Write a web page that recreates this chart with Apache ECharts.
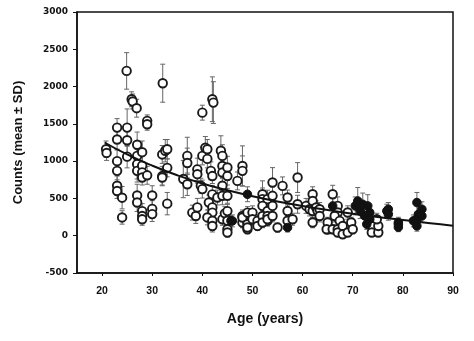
<!DOCTYPE html>
<html>
<head>
<meta charset="utf-8">
<script src="https://cdn.jsdelivr.net/npm/echarts@6/dist/echarts.min.js"></script>
<style>
  html, body { margin: 0; padding: 0; background: #fff; }
  #chart { width: 474px; height: 341px; }
</style>
</head>
<body>
<div id="chart"></div>
<script>
// Counts by age: each row is [age (years), mean count, SD]
const openSubjects = [
  [20.8, 1160, 110], [20.9, 1110, 100],
  [23, 1450, 120], [23, 1290, 130], [23, 1000, 150], [23, 870, 120], [23, 670, 130], [23, 600, 100],
  [24, 510, 150], [24, 245, 90],
  [24.9, 2210, 245], [25, 1450, 250], [25, 1280, 200], [25, 1060, 150],
  [25.9, 1830, 100], [26.1, 1800, 100], [26.9, 1710, 120], [27, 1220, 170], [27, 1070, 120],
  [27, 960, 200], [27, 870, 150], [27, 540, 150], [27, 445, 120],
  [28, 1120, 150], [28, 940, 130], [28, 850, 120], [28, 780, 100], [28, 330, 100], [28, 265, 90], [28, 220, 80],
  [29, 1540, 80], [29, 1495, 80], [29, 810, 120],
  [30, 540, 130], [30, 360, 110], [30, 290, 100],
  [32.1, 2045, 255], [32, 1090, 120], [32.6, 1140, 150], [33, 1160, 130], [33, 910, 120],
  [32, 800, 130], [32, 780, 100], [33, 430, 150],
  [37, 1070, 250], [37, 975, 200], [36.2, 760, 250], [37, 690, 150],
  [38, 310, 100], [38.7, 265, 100], [39, 380, 120], [39, 890, 150], [39, 825, 120], [39.7, 670, 100],
  [40, 625, 120], [40, 1650, 100], [40, 1070, 120], [40.6, 1180, 150], [41, 1160, 130], [41, 1030, 120],
  [41.7, 870, 120], [42, 800, 100],
  [41.3, 445, 100], [42, 380, 100], [42, 310, 90], [41, 245, 100], [42, 200, 80], [42, 130, 80],
  [42, 555, 120], [42, 1830, 300], [42.2, 1785, 280],
  [43, 512, 100], [44, 535, 120], [43.7, 1140, 200], [44, 1070, 150], [44, 935, 150], [44, 847, 120],
  [44, 670, 100], [44, 220, 80], [44.5, 300, 90], [45, 915, 150], [45, 800, 120], [45, 535, 100],
  [45, 330, 90], [45, 200, 80], [45, 87, 70], [45, 43, 60],
  [47, 735, 120], [48, 935, 270], [48, 870, 200], [48, 265, 80], [48, 177, 70], [49, 265, 80],
  [49, 177, 70], [48, 244, 70], [49, 154, 60], [49, 87, 60], [49, 310, 80], [49, 110, 60],
  [50, 310, 90], [50, 220, 70], [51, 199, 80], [51, 131, 60],
  [52, 556, 180], [52, 490, 150], [53, 490, 120], [52, 400, 100], [53, 332, 90], [52, 265, 80],
  [53, 265, 80], [53, 199, 70], [52, 177, 70], [53, 221, 70],
  [54, 713, 200], [54, 535, 120], [54, 400, 100], [54, 265, 80], [55, 110, 60], [56, 668, 120],
  [57, 512, 100], [57, 332, 90], [57, 200, 70],
  [58, 221, 80], [59, 780, 200], [59, 422, 120],
  [60.7, 400, 100], [61.4, 355, 90], [62, 556, 100], [62, 466, 100], [62, 332, 90], [62, 177, 70],
  [62.7, 378, 90], [63, 332, 80], [63.4, 355, 90], [63.4, 265, 80],
  [65, 87, 60], [65, 177, 70], [66, 556, 120], [67, 400, 120], [67, 311, 90], [66.4, 265, 80],
  [67.4, 199, 70], [64.8, 87, 60], [66, 87, 60], [67, 87, 60], [67, 43, 50], [68, 131, 60],
  [68, 20, 50], [69, 43, 50], [69, 311, 90], [69.7, 177, 70], [70, 87, 60],
  [73.8, 131, 60], [73.8, 43, 50], [75.1, 43, 50], [75.1, 131, 60], [74.8, 221, 80]
];

const filledSubjects = [
  [45.7, 200, 70], [46, 199, 80], [49, 556, 100], [57, 110, 60], [66, 400, 100],
  [70.5, 400, 120], [71, 466, 180], [71.5, 330, 100], [72, 422, 150], [73, 400, 150],
  [73.4, 311, 100], [72.4, 265, 100], [73.4, 221, 80], [72.8, 154, 70],
  [76.8, 332, 90], [77.1, 355, 90], [77.1, 288, 80],
  [79.1, 177, 70], [79.1, 154, 60], [79.1, 114, 60],
  [82.8, 445, 135], [83.8, 355, 100], [83.1, 288, 100], [82.8, 221, 80], [82.1, 199, 80],
  [83.8, 265, 90], [82.8, 131, 70]
];

// Fitted decline of counts with age
const trendAge = [20.5, 25, 30, 35, 40, 45, 50, 55, 60, 65, 70, 75, 80, 85, 90];
const trendCount = [1250, 1090, 940, 810, 700, 610, 530, 460, 400, 345, 295, 250, 210, 170, 135];

const xTicks = [20, 30, 40, 50, 60, 70, 80, 90];

const allSubjects = openSubjects.concat(filledSubjects);
const FONT = '"Liberation Sans", Arial, sans-serif';

function errorBar(params, api) {
  const x = api.value(0);
  const m = api.value(1);
  const sd = api.value(2);
  const top = api.coord([x, m + sd]);
  const bot = api.coord([x, m - sd]);
  const cap = 2.5;
  const style = { stroke: '#666', lineWidth: 1 };
  return {
    type: 'group',
    children: [
      { type: 'line', shape: { x1: top[0], y1: top[1], x2: bot[0], y2: bot[1] }, style: style },
      { type: 'line', shape: { x1: top[0] - cap, y1: top[1], x2: top[0] + cap, y2: top[1] }, style: style },
      { type: 'line', shape: { x1: bot[0] - cap, y1: bot[1], x2: bot[0] + cap, y2: bot[1] }, style: style }
    ]
  };
}

const chart = echarts.init(document.getElementById('chart'), null, { renderer: 'canvas' });
chart.setOption({
  animation: false,
  backgroundColor: '#fff',
  grid: {
    left: 77, right: 21, top: 12, bottom: 68,
    show: true, borderColor: '#111', borderWidth: 1.5, backgroundColor: 'transparent'
  },
  xAxis: {
    type: 'value', min: 15, max: 90,
    name: 'Age (years)', nameLocation: 'middle', nameGap: 39,
    nameTextStyle: { fontFamily: FONT, fontWeight: 'bold', fontSize: 14, color: '#111' },
    axisLine: { show: true, onZero: false, lineStyle: { color: '#111', width: 1.5 } },
    axisTick: { show: true, length: 3, customValues: xTicks, lineStyle: { color: '#111' } },
    axisLabel: { customValues: xTicks, margin: 13, fontFamily: FONT, fontWeight: 'bold', fontSize: 10.5, color: '#111' },
    splitLine: { show: false }
  },
  yAxis: {
    type: 'value', min: -500, max: 3000, interval: 500,
    name: 'Counts (mean ± SD)', nameLocation: 'middle', nameGap: 52, nameRotate: 90,
    nameTextStyle: { fontFamily: FONT, fontWeight: 'bold', fontSize: 13, color: '#111' },
    axisLine: { show: true, onZero: false, lineStyle: { color: '#111', width: 1.5 } },
    axisTick: { show: true, length: 4, lineStyle: { color: '#111' } },
    axisLabel: {
      margin: 9, fontFamily: '"DejaVu Sans", sans-serif', fontWeight: 'bold', fontSize: 9, color: '#111',
      formatter: (v) => String(v)
    },
    splitLine: { show: false }
  },
  series: [
    {
      type: 'custom', renderItem: errorBar, data: allSubjects, z: 1,
      encode: { x: 0, y: [1, 2] }
    },
    {
      type: 'scatter', data: openSubjects, symbol: 'circle', symbolSize: 8.5, z: 2,
      itemStyle: { color: '#fff', borderColor: '#1a1a1a', borderWidth: 1.9, opacity: 1 }
    },
    {
      type: 'scatter', data: filledSubjects, symbol: 'circle', symbolSize: 8.5, z: 3,
      itemStyle: { color: '#111', borderColor: '#111', borderWidth: 1, opacity: 1 }
    },
    {
      type: 'line', data: trendAge.map((a, i) => [a, trendCount[i]]), smooth: true,
      showSymbol: false, z: 4, lineStyle: { color: '#111', width: 2 }
    }
  ]
});
</script>
</body>
</html>
